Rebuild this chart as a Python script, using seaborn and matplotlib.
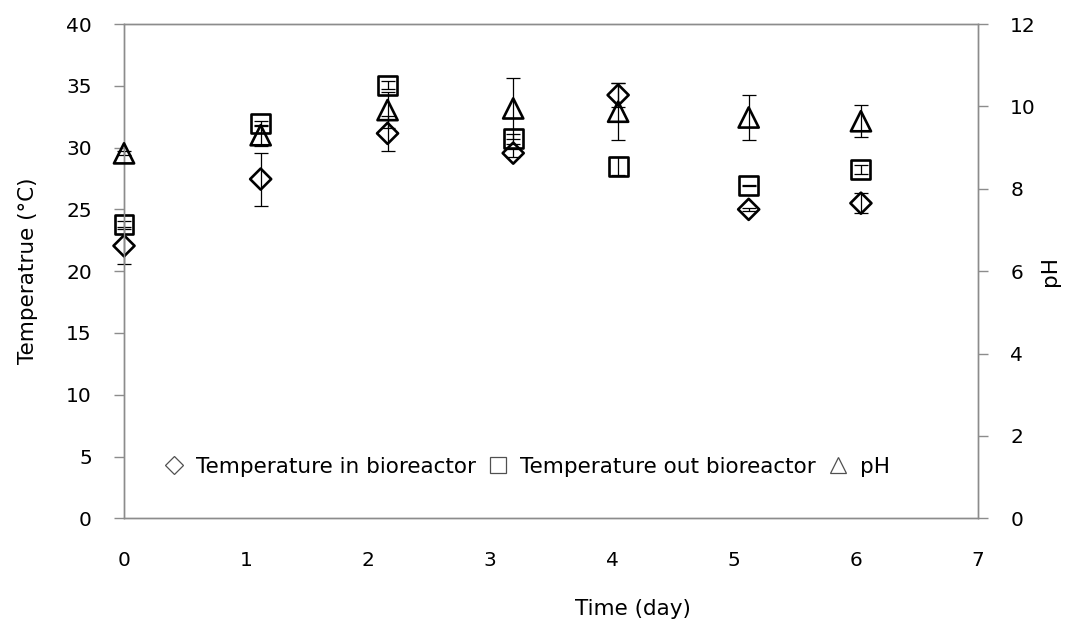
import matplotlib
matplotlib.use("Agg")
import matplotlib.pyplot as plt
from matplotlib.lines import Line2D
import numpy as np
import pandas as pd
import seaborn as sns

# Sampling days (measurements were taken a little after each whole day)
days = [0.0, 1.12, 2.16, 3.19, 4.05, 5.12, 6.04]

# Temperature inside the bioreactor (°C) and its standard deviation
temp_in = [22.05, 27.45, 31.15, 29.55, 34.25, 25.0, 25.5]
temp_in_err = [1.5, 2.15, 1.4, 0.3, 1.0, 0.1, 0.8]

# Temperature outside the bioreactor (°C) and its standard deviation
temp_out = [23.75, 31.95, 35.05, 30.7, 28.5, 26.95, 28.25]
temp_out_err = [0.3, 0.2, 0.3, 0.4, 0.7, 0.05, 0.35]

# pH of the broth and its standard deviation
ph = [8.86, 9.30, 9.91, 9.95, 9.87, 9.73, 9.64]
ph_err = [0.05, 0.25, 0.44, 0.75, 0.69, 0.55, 0.39]

series_names = ["Temperature in bioreactor", "Temperature out bioreactor", "pH"]

temp_df = pd.DataFrame({
    "day": days * 2,
    "temp": temp_in + temp_out,
    "err": temp_in_err + temp_out_err,
    "series": [series_names[0]] * len(days) + [series_names[1]] * len(days),
})
ph_df = pd.DataFrame({"day": days, "ph": ph, "err": ph_err})

sns.set_theme(style="white")
plt.rcParams["font.family"] = ["DejaVu Sans"]
plt.rcParams["text.color"] = "black"
TICK_FS = 14.5
LABEL_FS = 15.5

axis_grey = "#8c8c8c"

fig = plt.figure(figsize=(10.86, 6.35), dpi=100)
ax = fig.add_axes([0.1142, 0.1838, 0.9006 - 0.1142, 0.9622 - 0.1838])
ax2 = ax.twinx()

ebar_kw = dict(fmt="none", ecolor="black", elinewidth=0.9, capsize=4.7,
               capthick=0.9, clip_on=False)

# Temperature series on the left axis
markers = {series_names[0]: "D", series_names[1]: "s"}
sizes = {series_names[0]: 115, series_names[1]: 185}
for name in series_names[:2]:
    sub = temp_df[temp_df["series"] == name]
    ax.errorbar(sub["day"], sub["temp"], yerr=sub["err"], zorder=2, **ebar_kw)
    sns.scatterplot(data=sub, x="day", y="temp", marker=markers[name], s=sizes[name],
                    facecolor="none", edgecolor="black", linewidth=1.9,
                    ax=ax, legend=False, zorder=3, clip_on=False)

# pH on the right axis
ax2.errorbar(ph_df["day"], ph_df["ph"], yerr=ph_df["err"], zorder=2, **ebar_kw)
sns.scatterplot(data=ph_df, x="day", y="ph", marker="^", s=210,
                facecolor="none", edgecolor="black", linewidth=1.9,
                ax=ax2, legend=False, zorder=3, clip_on=False)

ax.set_xlim(0, 7)
ax.set_ylim(0, 40)
ax2.set_ylim(0, 12)
ax.set_xticks(range(0, 8))
ax.set_yticks(range(0, 41, 5))
ax2.set_yticks(range(0, 13, 2))

for a in (ax, ax2):
    for sp in a.spines.values():
        sp.set_visible(True)
        sp.set_color(axis_grey)
        sp.set_linewidth(1.0)
    a.tick_params(colors=axis_grey, labelcolor="black", length=7.2, width=1.0,
                  labelsize=TICK_FS, pad=16, direction="out")
    a.grid(False)

ax.set_xlabel("Time (day)", fontsize=LABEL_FS, color="black")
ax.xaxis.set_label_coords(0.596, -0.163)
ax.set_ylabel("Temperatrue (°C)", fontsize=LABEL_FS, labelpad=20, color="black")
ax2.set_ylabel("pH", fontsize=LABEL_FS, labelpad=3, color="black")

# Legend along the bottom of the plot area
legend_marker_kw = dict(linestyle="none", markerfacecolor="none",
                        markeredgecolor="#505050", markeredgewidth=0.9)
handles = [
    Line2D([], [], marker="D", markersize=9, **legend_marker_kw),
    Line2D([], [], marker="s", markersize=12, **legend_marker_kw),
    Line2D([], [], marker="^", markersize=12, **legend_marker_kw),
]
ax2.legend(handles, series_names, loc="center left", bbox_to_anchor=(0.036, 0.104),
           ncol=3, frameon=False, fontsize=LABEL_FS, handlelength=1.0,
           handletextpad=0.5, columnspacing=0.55, borderaxespad=0,
           labelcolor="black")

fig.savefig("out.png", dpi=100)
